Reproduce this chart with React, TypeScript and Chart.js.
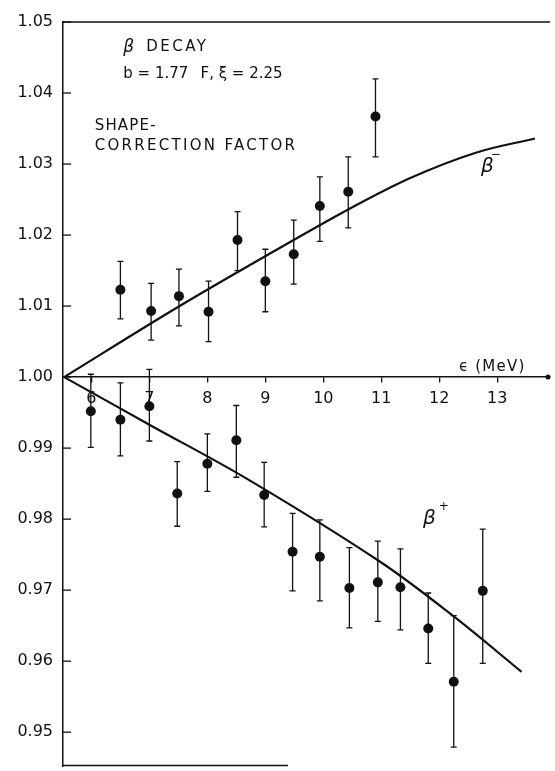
import React, { useEffect, useRef } from "react";
import { Chart, registerables } from "chart.js";

Chart.register(...registerables);

const FONT = '"DejaVu Sans", "Liberation Sans", sans-serif';
const INK = "#111111";

// Axis ranges and ticks
const xRange = [5.51, 13.91];
const yRange = [0.94524, 1.05];
const xTickValues = [6, 7, 8, 9, 10, 11, 12, 13];
const yTickValues = [1.05, 1.04, 1.03, 1.02, 1.01, 1.0, 0.99, 0.98, 0.97, 0.96, 0.95];

// beta- measured points (energy in MeV, shape-correction factor, error bar low/high)
const betaMinusE = [6.5, 7.03, 7.51, 8.02, 8.52, 9.0, 9.49, 9.94, 10.43, 10.9];
const betaMinusValue = [1.0123, 1.0093, 1.0114, 1.0092, 1.0193, 1.0135, 1.0173, 1.0241, 1.0261, 1.0367];
const betaMinusLow = [1.0082, 1.0052, 1.0072, 1.005, 1.015, 1.0092, 1.0131, 1.0191, 1.021, 1.031];
const betaMinusHigh = [1.0163, 1.0132, 1.0152, 1.0135, 1.0233, 1.018, 1.0221, 1.0282, 1.031, 1.042];

// beta+ measured points
const betaPlusE = [5.99, 6.5, 7.0, 7.48, 8.0, 8.5, 8.98, 9.47, 9.94, 10.45, 10.94, 11.33, 11.81, 12.25, 12.75];
const betaPlusValue = [0.9952, 0.994, 0.9959, 0.9836, 0.9878, 0.9911, 0.9834, 0.9754, 0.9747, 0.9703, 0.9711, 0.9704, 0.9646, 0.9571, 0.9699];
const betaPlusLow = [0.9901, 0.9889, 0.991, 0.979, 0.9839, 0.9859, 0.9789, 0.9699, 0.9685, 0.9647, 0.9656, 0.9644, 0.9597, 0.9479, 0.9597];
const betaPlusHigh = [1.0004, 0.9992, 1.0011, 0.9881, 0.992, 0.996, 0.988, 0.9808, 0.9799, 0.976, 0.9769, 0.9758, 0.9696, 0.9664, 0.9786];

// theoretical curves
const curveMinusE = [5.53, 7.5, 9.21, 10.43, 11.49, 12.63, 13.65];
const curveMinusValue = [1.0, 1.0099, 1.018, 1.0236, 1.028, 1.0316, 1.0336];
const curvePlusE = [5.53, 7.0, 8.7, 10.98, 12.25, 13.42];
const curvePlusValue = [1.0, 0.9933, 0.9856, 0.974, 0.9663, 0.9585];

// text annotations in data coordinates
type Note = { text: string; x: number; y: number; size: number; spacing: number; italic?: boolean };
const notes: Note[] = [
  { text: "β", x: 6.55, y: 1.0464, size: 17, spacing: 0, italic: true },
  { text: "DECAY", x: 6.944, y: 1.0464, size: 15, spacing: 2.5 },
  { text: "b = 1.77", x: 6.55, y: 1.0427, size: 15, spacing: 0 },
  { text: "F, ξ = 2.25", x: 7.883, y: 1.0427, size: 15, spacing: 0 },
  { text: "SHAPE-", x: 6.056, y: 1.0353, size: 15, spacing: 1.2 },
  { text: "CORRECTION FACTOR", x: 6.056, y: 1.0325, size: 15, spacing: 2.3 },
  { text: "β", x: 12.72, y: 1.0296, size: 20, spacing: 0, italic: true },
  { text: "−", x: 12.89, y: 1.0313, size: 12, spacing: 0 },
  { text: "β", x: 11.72, y: 0.9801, size: 20, spacing: 0, italic: true },
  { text: "+", x: 11.99, y: 0.9817, size: 12, spacing: 0 },
  { text: "ϵ (MeV)", x: 12.339, y: 1.0014, size: 15, spacing: 1.2 },
];

const toXY = (xs: number[], ys: number[]) => xs.map((x, i) => ({ x, y: ys[i] }));

const decorPlugin = {
  id: "decor",
  beforeDatasetsDraw(chart: any) {
    const { ctx } = chart;
    const xs = chart.scales.x;
    const ys = chart.scales.y;
    ctx.save();
    ctx.strokeStyle = INK;
    ctx.lineWidth = 1.3;
    chart.data.datasets.forEach((ds: any) => {
      if (!ds.errLow) return;
      ds.data.forEach((p: any, i: number) => {
        const px = xs.getPixelForValue(p.x);
        const y1 = ys.getPixelForValue(ds.errLow[i]);
        const y2 = ys.getPixelForValue(ds.errHigh[i]);
        ctx.beginPath();
        ctx.moveTo(px, y1);
        ctx.lineTo(px, y2);
        ctx.moveTo(px - 3, y1);
        ctx.lineTo(px + 3, y1);
        ctx.moveTo(px - 3, y2);
        ctx.lineTo(px + 3, y2);
        ctx.stroke();
      });
    });
    ctx.restore();
  },
  afterDraw(chart: any) {
    const { ctx, chartArea } = chart;
    const xs = chart.scales.x;
    const ys = chart.scales.y;
    ctx.save();
    ctx.strokeStyle = INK;
    ctx.lineWidth = 1.5;
    // top frame
    ctx.beginPath();
    ctx.moveTo(chartArea.left, chartArea.top);
    ctx.lineTo(chartArea.right, chartArea.top);
    ctx.stroke();
    // bottom frame (partial, as in the scan)
    ctx.beginPath();
    ctx.moveTo(chartArea.left, chartArea.bottom - 0.5);
    ctx.lineTo(xs.getPixelForValue(9.39), chartArea.bottom - 0.5);
    ctx.stroke();
    // inward y ticks
    ctx.lineWidth = 1.3;
    yTickValues.forEach((v) => {
      const py = ys.getPixelForValue(v);
      ctx.beginPath();
      ctx.moveTo(chartArea.left, py);
      ctx.lineTo(chartArea.left + 8, py);
      ctx.stroke();
    });
    // end dot of energy axis
    ctx.fillStyle = INK;
    ctx.beginPath();
    ctx.arc(xs.getPixelForValue(13.876), ys.getPixelForValue(1.0), 2.5, 0, Math.PI * 2);
    ctx.fill();
    // annotations
    notes.forEach((n) => {
      ctx.font = `${n.italic ? "italic " : ""}${n.size}px ${FONT}`;
      (ctx as any).letterSpacing = `${n.spacing}px`;
      ctx.textAlign = "left";
      ctx.textBaseline = "middle";
      ctx.fillStyle = INK;
      ctx.fillText(n.text, xs.getPixelForValue(n.x), ys.getPixelForValue(n.y));
    });
    ctx.restore();
  },
};

export default function App() {
  const ref = useRef<HTMLCanvasElement | null>(null);

  useEffect(() => {
    if (!ref.current) return;
    const chart = new Chart(ref.current, {
      type: "scatter",
      data: {
        datasets: [
          {
            type: "line",
            label: "β− theory",
            data: toXY(curveMinusE, curveMinusValue),
            borderColor: INK,
            borderWidth: 2.2,
            pointRadius: 0,
            fill: false,
            tension: 0.35,
          } as any,
          {
            type: "line",
            label: "β+ theory",
            data: toXY(curvePlusE, curvePlusValue),
            borderColor: INK,
            borderWidth: 2.2,
            pointRadius: 0,
            fill: false,
            tension: 0.35,
          } as any,
          {
            label: "β−",
            data: toXY(betaMinusE, betaMinusValue),
            errLow: betaMinusLow,
            errHigh: betaMinusHigh,
            backgroundColor: INK,
            borderColor: INK,
            pointRadius: 5,
            borderWidth: 0,
          } as any,
          {
            label: "β+",
            data: toXY(betaPlusE, betaPlusValue),
            errLow: betaPlusLow,
            errHigh: betaPlusHigh,
            backgroundColor: INK,
            borderColor: INK,
            pointRadius: 5,
            borderWidth: 0,
          } as any,
        ],
      },
      options: {
        animation: false,
        responsive: false,
        maintainAspectRatio: false,
        devicePixelRatio: 1,
        layout: { padding: { top: 22, right: 0, bottom: 1, left: 0 } },
        plugins: {
          legend: { display: false },
          tooltip: { enabled: false },
        },
        scales: {
          x: {
            type: "linear",
            min: xRange[0],
            max: xRange[1],
            position: { y: 1.0 } as any,
            border: { display: true, color: INK, width: 1.5 },
            grid: { drawOnChartArea: false, drawTicks: true, tickLength: 5, color: INK, lineWidth: 1.3 },
            ticks: {
              color: INK,
              font: { size: 16, family: FONT },
              padding: 7,
              maxRotation: 0,
              autoSkip: false,
              callback: (v: any) => String(v),
            },
            afterBuildTicks: (s: any) => {
              s.ticks = xTickValues.map((v) => ({ value: v }));
            },
            afterFit: (s: any) => {
              s.height = 0;
              s.paddingLeft = 0;
              s.paddingRight = 0;
              s.paddingTop = 0;
              s.paddingBottom = 0;
            },
          } as any,
          y: {
            type: "linear",
            min: yRange[0],
            max: yRange[1],
            position: "left",
            border: { display: true, color: INK, width: 1.5 },
            grid: { drawOnChartArea: false, drawTicks: false },
            ticks: {
              color: INK,
              font: { size: 16, family: FONT },
              padding: 10,
              autoSkip: false,
              callback: (v: any) => Number(v).toFixed(2),
            },
            afterBuildTicks: (s: any) => {
              s.ticks = yTickValues.map((v) => ({ value: v }));
            },
            afterFit: (s: any) => {
              s.width = 63;
              s.paddingTop = 0;
              s.paddingBottom = 0;
            },
          } as any,
        },
      },
      plugins: [decorPlugin],
    });
    return () => chart.destroy();
  }, []);

  return (
    <div style={{ position: "fixed", left: 0, top: 0, width: 555, height: 771, background: "#fff" }}>
      <canvas ref={ref} width={555} height={771} style={{ display: "block" }} />
    </div>
  );
}
